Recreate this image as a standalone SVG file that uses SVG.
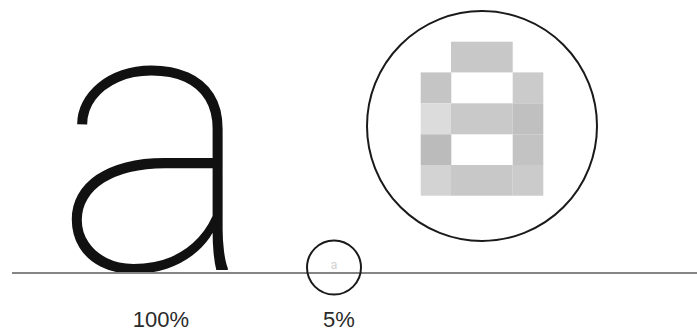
<svg xmlns="http://www.w3.org/2000/svg" width="697" height="333" viewBox="0 0 697 333">
<style>
.ring{fill:none;stroke:#1a1a1a;stroke-width:2}
.lbl{font-family:"Liberation Sans",Arial,sans-serif;font-size:22px;fill:#2a2a2a;text-anchor:middle}
.px{stroke:none}
</style>
<rect width="697" height="333" fill="#fff"/>
<g id="big-a">
<text x="155" y="270" font-family="Roboto, 'Noto Sans', sans-serif" font-weight="100" font-size="380" text-anchor="middle" fill="#111">a</text>
</g>
<g id="baseline">
<line x1="12" y1="273" x2="697" y2="273" stroke="#858585" stroke-width="2"/>
</g>
<g id="small-circle">
<circle class="ring" cx="334" cy="267.5" r="27"/>
<text x="334" y="269" font-family="Roboto, 'Noto Sans', sans-serif" font-size="12" text-anchor="middle" fill="#d0d0d0">a</text>
</g>
<g id="magnified">
<circle class="ring" cx="482" cy="126" r="115"/>
<g class="px">
<rect x="451" y="41.7" width="61.7" height="30.7" fill="#c8c8c8"/>
<rect x="420.7" y="72.4" width="30.6" height="30.9" fill="#c5c5c5"/>
<rect x="512.7" y="72.4" width="30.6" height="30.9" fill="#cbcbcb"/>
<rect x="420.7" y="103.3" width="30.6" height="31" fill="#dcdcdc"/>
<rect x="451" y="103.3" width="61.7" height="31" fill="#c9c9c9"/>
<rect x="512.7" y="103.3" width="30.6" height="31" fill="#c0c0c0"/>
<rect x="420.7" y="134.3" width="30.6" height="30.7" fill="#bbbbbb"/>
<rect x="512.7" y="134.3" width="30.6" height="30.7" fill="#c3c3c3"/>
<rect x="420.7" y="165" width="30.6" height="30.7" fill="#d3d3d3"/>
<rect x="451" y="165" width="61.7" height="30.7" fill="#c8c8c8"/>
<rect x="512.7" y="165" width="30.6" height="30.7" fill="#cbcbcb"/>
</g>
</g>
<g id="labels">
<text class="lbl" x="161" y="327">100%</text>
<text class="lbl" x="339" y="327">5%</text>
</g>
</svg>
